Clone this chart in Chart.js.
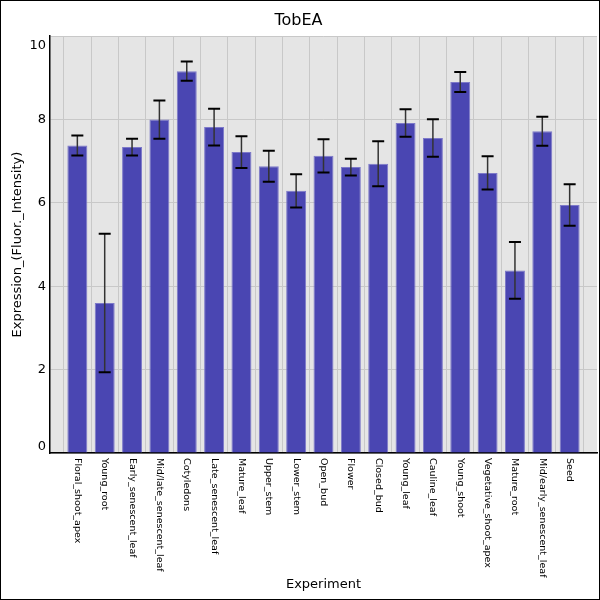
<!DOCTYPE html>
<html>
<head>
<meta charset="utf-8">
<script src="https://cdn.jsdelivr.net/npm/chart.js@4.4.1/dist/chart.umd.min.js"></script>
<style>
  html, body { margin: 0; padding: 0; background: #fff; }
  #wrap { width: 600px; height: 600px; }
</style>
</head>
<body>
<div id="wrap"><canvas id="mycanvas" width="600" height="600"></canvas></div>
<script>
var experiments = ["Floral_shoot_apex", "Young_root", "Early_senescent_leaf", "Mid/late_senescent_leaf",
	"Cotyledons", "Late_senescent_leaf", "Mature_leaf", "Upper_stem", "Lower_stem", "Open_bud",
	"Flower", "Closed_bud", "Young_leaf", "Cauline_leaf", "Young_shoot", "Vegetative_shoot_apex",
	"Mature_root", "Mid/early_senescent_leaf", "Seed"];
var expression = [7.38, 3.6, 7.34, 8.0, 9.16, 7.82, 7.22, 6.88, 6.29, 7.13,
	6.86, 6.94, 7.92, 7.56, 8.9, 6.72, 4.38, 7.72, 5.95];
var errors = [0.24, 1.66, 0.2, 0.46, 0.23, 0.44, 0.38, 0.37, 0.4, 0.4,
	0.2, 0.54, 0.33, 0.45, 0.24, 0.4, 0.68, 0.35, 0.5];
var yTicks = [0, 2, 4, 6, 8, 10];

// one empty slot on each side, like the original plot
var labels = [""].concat(experiments, [""]);
var values = [null].concat(expression, [null]);

var fontName = "'DejaVu Sans', sans-serif";

var plotBg = {
	id: "plotBg",
	beforeDraw: function(chart) {
		var a = chart.chartArea, ctx = chart.ctx;
		ctx.save();
		ctx.fillStyle = "#e5e5e5";
		ctx.fillRect(a.left, a.top, a.right - a.left, a.bottom - a.top);
		ctx.restore();
	},
	afterDraw: function(chart) {
		var ctx = chart.ctx;
		ctx.save();
		ctx.strokeStyle = "#000";
		ctx.lineWidth = 1;
		ctx.strokeRect(0.5, 0.5, chart.width - 1, chart.height - 1);
		ctx.restore();
	}
};

var errorBars = {
	id: "errorBars",
	afterDatasetsDraw: function(chart) {
		var ctx = chart.ctx;
		var y = chart.scales.y;
		var meta = chart.getDatasetMeta(0);
		ctx.save();
		for (var i = 0; i < expression.length; i++) {
			var bar = meta.data[i + 1];
			var top = y.getPixelForValue(expression[i] + errors[i]);
			var bot = y.getPixelForValue(expression[i] - errors[i]);
			ctx.strokeStyle = "#333";
			ctx.lineWidth = 1.5;
			ctx.beginPath();
			ctx.moveTo(bar.x, top);
			ctx.lineTo(bar.x, bot);
			ctx.stroke();
			ctx.strokeStyle = "#000";
			ctx.lineWidth = 2;
			ctx.beginPath();
			ctx.moveTo(bar.x - 6, top);
			ctx.lineTo(bar.x + 6, top);
			ctx.moveTo(bar.x - 6, bot);
			ctx.lineTo(bar.x + 6, bot);
			ctx.stroke();
		}
		ctx.restore();
	}
};

// x labels read top to bottom, which chart.js rotation can't do;
// y labels at the ends are pulled inside the plot
var axisLabels = {
	id: "axisLabels",
	afterDraw: function(chart) {
		var ctx = chart.ctx;
		var x = chart.scales.x, y = chart.scales.y;
		ctx.save();
		ctx.fillStyle = "#000";
		ctx.font = "9.5px " + fontName;
		ctx.textAlign = "left";
		ctx.textBaseline = "middle";
		for (var i = 0; i < experiments.length; i++) {
			var px = x.getPixelForValue(i + 1);
			ctx.save();
			ctx.translate(px, x.top + 5);
			ctx.rotate(Math.PI / 2);
			ctx.fillText(experiments[i], 0, 0);
			ctx.restore();
		}
		ctx.font = "13px " + fontName;
		ctx.textAlign = "right";
		for (var j = 0; j < yTicks.length; j++) {
			var py = y.getPixelForValue(yTicks[j]);
			py = Math.min(Math.max(py, y.top + 9), y.bottom - 6);
			ctx.fillText(String(yTicks[j]), y.right - 4, py);
		}
		ctx.restore();
	}
};

var ctx = document.getElementById("mycanvas");
var chart = new Chart(ctx, {
	type: "bar",
	data: {
		labels: labels,
		datasets: [{
			label: "TobEA",
			data: values,
			backgroundColor: "#4a46b2",
			borderColor: "#7d79c9",
			borderWidth: 1,
			barPercentage: 0.73,
			categoryPercentage: 1
		}]
	},
	options: {
		responsive: false,
		animation: false,
		layout: { padding: { left: 0, right: 3, top: 0, bottom: 0 } },
		plugins: {
			legend: { display: false },
			tooltip: { enabled: false },
			title: {
				display: true,
				text: "TobEA",
				color: "#000",
				font: { family: fontName, size: 16, weight: "normal" },
				padding: { top: 11, bottom: 6 }
			}
		},
		scales: {
			x: {
				type: "category",
				offset: false,
				grid: { color: "#c8c8c8", lineWidth: 1, drawTicks: false },
				border: { display: true, color: "#000", width: 1.5 },
				ticks: { display: false },
				title: {
					display: true,
					text: "Experiment",
					color: "#000",
					font: { family: fontName, size: 13 },
					padding: { top: 0, bottom: 8 }
				},
				afterFit: function(s) { s.height = 147; }
			},
			y: {
				min: 0,
				max: 10,
				afterBuildTicks: function(s) {
					s.ticks = yTicks.map(function(v) { return { value: v }; });
				},
				grid: { color: "#c8c8c8", lineWidth: 1, drawTicks: false },
				border: { display: true, color: "#000", width: 1.5 },
				ticks: { display: false },
				title: {
					display: true,
					text: "Expression_(Fluor._Intensity)",
					color: "#000",
					font: { family: fontName, size: 13 },
					padding: { top: 10, bottom: 0 }
				},
				afterFit: function(s) { s.width = 50; }
			}
		}
	},
	plugins: [plotBg, errorBars, axisLabels]
});
</script>
</body>
</html>
